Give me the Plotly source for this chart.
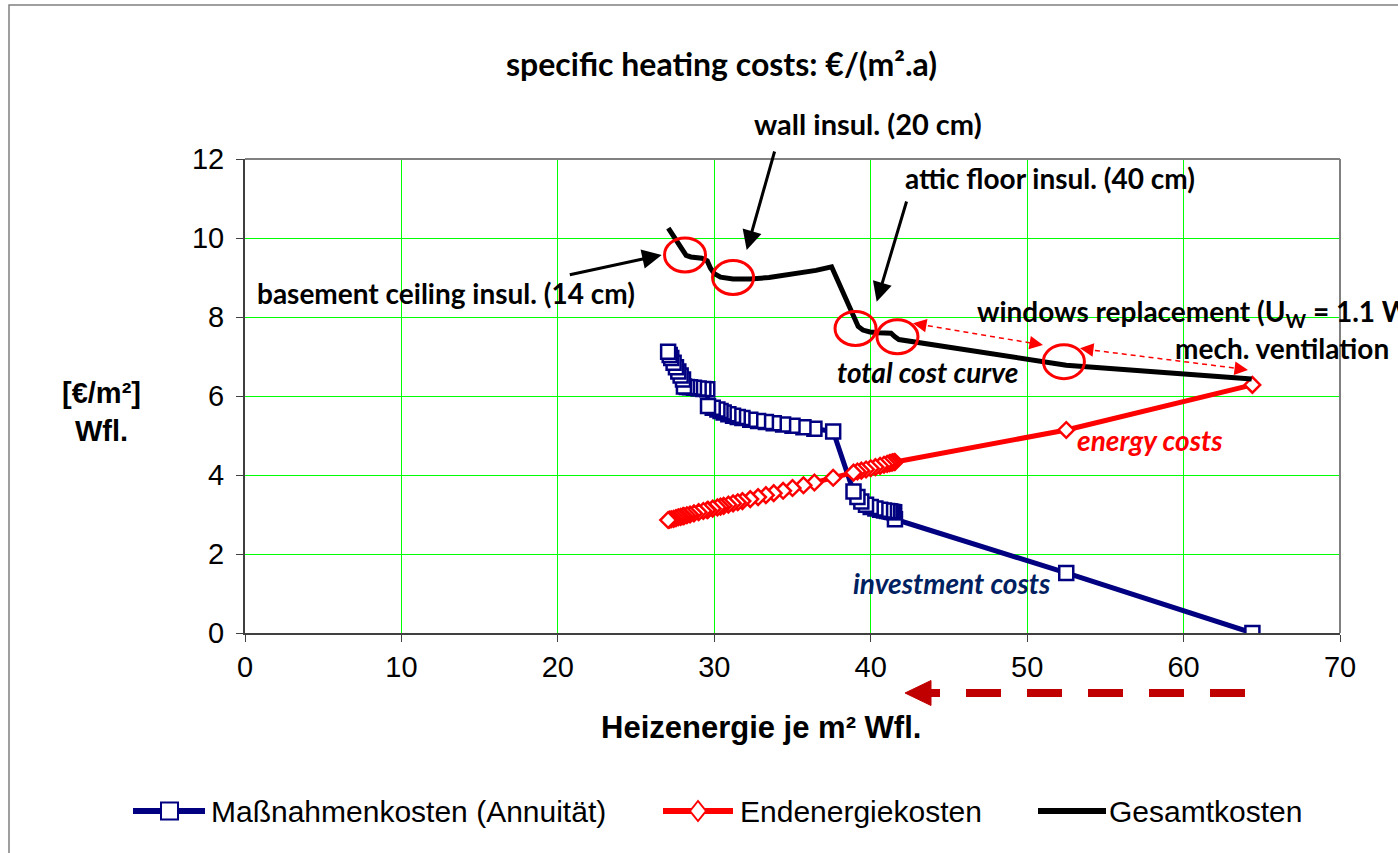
import plotly.graph_objects as go

# ---------------- data ----------------
heat_energy = [64.4, 52.5, 41.55, 41.5, 41.4, 41.3, 41.2, 41.05, 40.85, 40.6, 40.3, 40.0,
               39.7, 39.4, 39.15, 38.9, 37.6, 36.4, 35.7, 35.0, 34.4, 33.8, 33.3, 32.8,
               32.3, 31.8, 31.5, 31.2, 30.9, 30.6, 30.4, 30.2, 29.9, 29.6, 29.55, 29.3,
               29.0, 28.7, 28.45, 28.25, 28.06, 28.0, 27.85, 27.7, 27.55, 27.4, 27.25,
               27.15, 27.05]
invest_costs = [0.00, 1.52, 2.88, 3.06, 3.065, 3.07, 3.08, 3.09, 3.10, 3.12, 3.15, 3.19,
                3.25, 3.33, 3.44, 3.58, 5.10, 5.17, 5.21, 5.25, 5.28, 5.31, 5.34, 5.37,
                5.40, 5.44, 5.47, 5.50, 5.54, 5.58, 5.62, 5.66, 5.70, 5.75, 6.17, 6.18,
                6.19, 6.21, 6.22, 6.23, 6.24, 6.42, 6.52, 6.62, 6.73, 6.84, 6.96,
                7.04, 7.12]
energy_costs = [6.28, 5.14, 4.33, 4.33, 4.32, 4.31, 4.30, 4.28, 4.26, 4.23, 4.20, 4.17,
                4.14, 4.11, 4.09, 4.06, 3.93, 3.81, 3.74, 3.67, 3.60, 3.54, 3.49, 3.44,
                3.39, 3.34, 3.31, 3.28, 3.25, 3.22, 3.20, 3.18, 3.15, 3.12, 3.11, 3.09,
                3.06, 3.03, 3.00, 2.98, 2.96, 2.96, 2.94, 2.93, 2.91, 2.89, 2.88,
                2.87, 2.86]
total_x = [27.06, 27.5, 27.9, 28.05, 28.2, 28.5, 29.2, 29.55, 29.75, 30.0, 30.4, 31.2,
           32.3, 33.5, 35.0, 36.5, 37.5, 38.7, 38.95, 39.2, 39.5, 39.95, 40.5, 41.3,
           41.55, 41.8, 52.5, 64.35]
total_costs = [10.25, 9.96, 9.70, 9.62, 9.56, 9.52, 9.49, 9.42, 9.24, 9.10, 9.01, 8.96,
               8.96, 9.00, 9.08, 9.18, 9.27, 8.18, 7.92, 7.76, 7.67, 7.62, 7.60, 7.59,
               7.50, 7.43, 6.78, 6.43]

x_ticks = [0, 10, 20, 30, 40, 50, 60, 70]
y_ticks = [0, 2, 4, 6, 8, 10, 12]

series_names = ["Maßnahmenkosten (Annuität)", "Endenergiekosten", "Gesamtkosten"]
NAVY = "#000080"
RED = "#FF0000"

# highlighted measure points (ellipse centres, data units)
circle_x = [28.13, 31.2, 39.03, 41.71, 52.35]
circle_y = [9.57, 9.0, 7.71, 7.5, 6.87]

# ---------------- figure ----------------
W, H = 1398, 853
L, R, T, B = 245, 1340, 159, 633


def px(p):
    return (p - L) / (R - L)


def py(p):
    return (B - p) / (B - T)


fig = go.Figure()
fig.add_trace(go.Scatter(
    x=heat_energy, y=invest_costs, mode="lines+markers", name=series_names[0],
    line=dict(color=NAVY, width=5),
    marker=dict(symbol="square", size=14, color="white", line=dict(color=NAVY, width=2.5)),
    showlegend=False))
fig.add_trace(go.Scatter(
    x=heat_energy, y=energy_costs, mode="lines+markers", name=series_names[1],
    line=dict(color=RED, width=5),
    marker=dict(symbol="diamond", size=12, color="white", line=dict(color=RED, width=2.5)),
    showlegend=False))
fig.add_trace(go.Scatter(
    x=total_x, y=total_costs, mode="lines", name=series_names[2],
    line=dict(color="black", width=5),
    showlegend=False))

TICKFONT = dict(family="Liberation Sans, Arial", size=29, color="black")
fig.update_xaxes(range=[0, 70], tickvals=x_ticks, showgrid=True, gridcolor="#00FF00",
                 gridwidth=1, zeroline=False, showline=True, linecolor="#404040",
                 linewidth=2, ticks="outside", ticklen=7, tickcolor="#404040",
                 tickfont=TICKFONT)
fig.update_yaxes(range=[0, 12], tickvals=y_ticks, showgrid=True, gridcolor="#00FF00",
                 gridwidth=1, zeroline=False, showline=True, linecolor="#404040",
                 linewidth=2, ticks="outside", ticklen=7, tickcolor="#404040",
                 tickfont=TICKFONT, ticklabelstandoff=6)

shapes = []
# outer chart border
shapes.append(dict(type="rect", xref="paper", yref="paper", x0=px(9), x1=px(1420),
                   y0=py(870), y1=py(5), line=dict(color="#808080", width=1.5)))
# top and right plot frame
shapes.append(dict(type="line", xref="paper", yref="paper", x0=0, x1=1, y0=1, y1=1,
                   line=dict(color="#808080", width=2)))
shapes.append(dict(type="line", xref="paper", yref="paper", x0=1, x1=1, y0=0, y1=1,
                   line=dict(color="#808080", width=2)))
# red ellipses
for cx, cy in zip(circle_x, circle_y):
    rx, ry = 20.5 / 15.643, 17.0 / 39.5
    shapes.append(dict(type="circle", xref="x", yref="y", x0=cx - rx, x1=cx + rx,
                       y0=cy - ry, y1=cy + ry, line=dict(color=RED, width=3)))
# red dashed double arrows (lines)
for (x0, y0, x1, y1) in [(913, 323.3, 1043, 345), (1080, 348.3, 1248, 370)]:
    shapes.append(dict(type="line", xref="paper", yref="paper", x0=px(x0 + 6), y0=py(y0 + 1),
                       x1=px(x1 - 6), y1=py(y1 - 1),
                       line=dict(color=RED, width=1.5, dash="5px,4px")))
# bottom dashed arrow
shapes.append(dict(type="line", xref="paper", yref="paper", x0=px(1245), x1=px(931),
                   y0=py(693), y1=py(693), line=dict(color="#C00000", width=8, dash="35px,26px")))
shapes.append(dict(type="path", xref="paper", yref="paper",
                   path=f"M {px(905)} {py(693)} L {px(931)} {py(680.5)} L {px(931)} {py(705.5)} Z",
                   fillcolor="#C00000", line=dict(color="#C00000", width=1)))

# custom legend symbols
LEG_Y = 811
leg_lines = [(133, 205, NAVY), (663, 733, RED), (1038, 1106, "black")]
for x0, x1, c in leg_lines:
    shapes.append(dict(type="line", xref="paper", yref="paper", x0=px(x0), x1=px(x1),
                       y0=py(LEG_Y), y1=py(LEG_Y), line=dict(color=c, width=6)))
shapes.append(dict(type="rect", xref="paper", yref="paper", x0=px(161), x1=px(178),
                   y0=py(LEG_Y + 8.5), y1=py(LEG_Y - 8.5), fillcolor="white",
                   line=dict(color=NAVY, width=2)))
dcx = 698
shapes.append(dict(type="path", xref="paper", yref="paper",
                   path=(f"M {px(dcx - 8)} {py(LEG_Y)} L {px(dcx)} {py(LEG_Y - 10)} "
                         f"L {px(dcx + 8)} {py(LEG_Y)} L {px(dcx)} {py(LEG_Y + 10)} Z"),
                   fillcolor="white", line=dict(color=RED, width=2)))

ann = []
BOLD = dict(family="Lato", size=28, color="black")


def text(t, x, y, font, xanchor="center", yanchor="middle"):
    ann.append(dict(text=t, xref="paper", yref="paper", x=px(x), y=py(y),
                    xanchor=xanchor, yanchor=yanchor, showarrow=False, font=font))


text("<b>specific heating costs: €/(m².a)</b>", 721, 63, dict(family="Lato", size=32, color="black"))
text("<b>wall insul. (20 cm)</b>", 868, 123, dict(family="Lato", size=29, color="black"))
text("<b>attic floor insul. (40 cm)</b>", 1050, 178, BOLD)
text("<b>basement ceiling insul. (14 cm)</b>", 255, 293, BOLD, xanchor="left")
text("<b>windows replacement (U<sub>W</sub> = 1.1 W/(m²K))</b>", 975, 313, BOLD, xanchor="left")
text("<b>mech. ventilation</b>", 1282, 348, BOLD)
text("<b><i>total cost curve</i></b>", 927, 372, BOLD)
text("<b><i>energy costs</i></b>", 1150, 440, dict(family="Lato", size=28, color=RED))
text("<b><i>investment costs</i></b>", 952, 583, dict(family="Lato", size=28, color="#002060"))

AX = dict(family="Liberation Sans, Arial", size=31, color="black")
text("<b>Heizenergie je m² Wfl.</b>", 761, 727, AX)
text("<b>[€/m²]</b>", 101, 393, dict(family="Liberation Sans, Arial", size=29, color="black"))
text("<b>Wfl.</b>", 101, 431, dict(family="Liberation Sans, Arial", size=29, color="black"))

LEG = dict(family="Liberation Sans, Arial", size=30, color="black")
text(series_names[0], 209, LEG_Y, LEG, xanchor="left")
text(series_names[1], 738, LEG_Y, LEG, xanchor="left")
text(series_names[2], 1107, LEG_Y, LEG, xanchor="left")

# black pointer arrows
for tipx, tipy, sx, sy in [(746.7, 250, 775, 150), (876.7, 301.7, 907, 200), (661.7, 255, 568.3, 275)]:
    ann.append(dict(text="", xref="paper", yref="paper", x=px(tipx), y=py(tipy),
                    ax=sx - tipx, ay=sy - tipy, showarrow=True, arrowhead=2,
                    arrowsize=1.3, arrowwidth=3, arrowcolor="black"))
# red arrow heads for dashed arrows
for tipx, tipy, dx, dy in [(913, 323.3, 14, 2.4), (1043, 345, -14, -2.4),
                           (1080, 348.3, 14, 1.8), (1248, 370, -14, -1.8)]:
    ann.append(dict(text="", xref="paper", yref="paper", x=px(tipx), y=py(tipy),
                    ax=dx, ay=dy, showarrow=True, arrowhead=2,
                    arrowsize=1.8, arrowwidth=1.5, arrowcolor=RED))

fig.update_layout(width=W, height=H, margin=dict(l=L, r=W - R, t=T, b=H - B),
                  plot_bgcolor="white", paper_bgcolor="white", shapes=shapes,
                  annotations=ann, showlegend=False)

fig.write_html("out.html", config={"displayModeBar": False},
               post_script="document.body.style.margin='0';")
